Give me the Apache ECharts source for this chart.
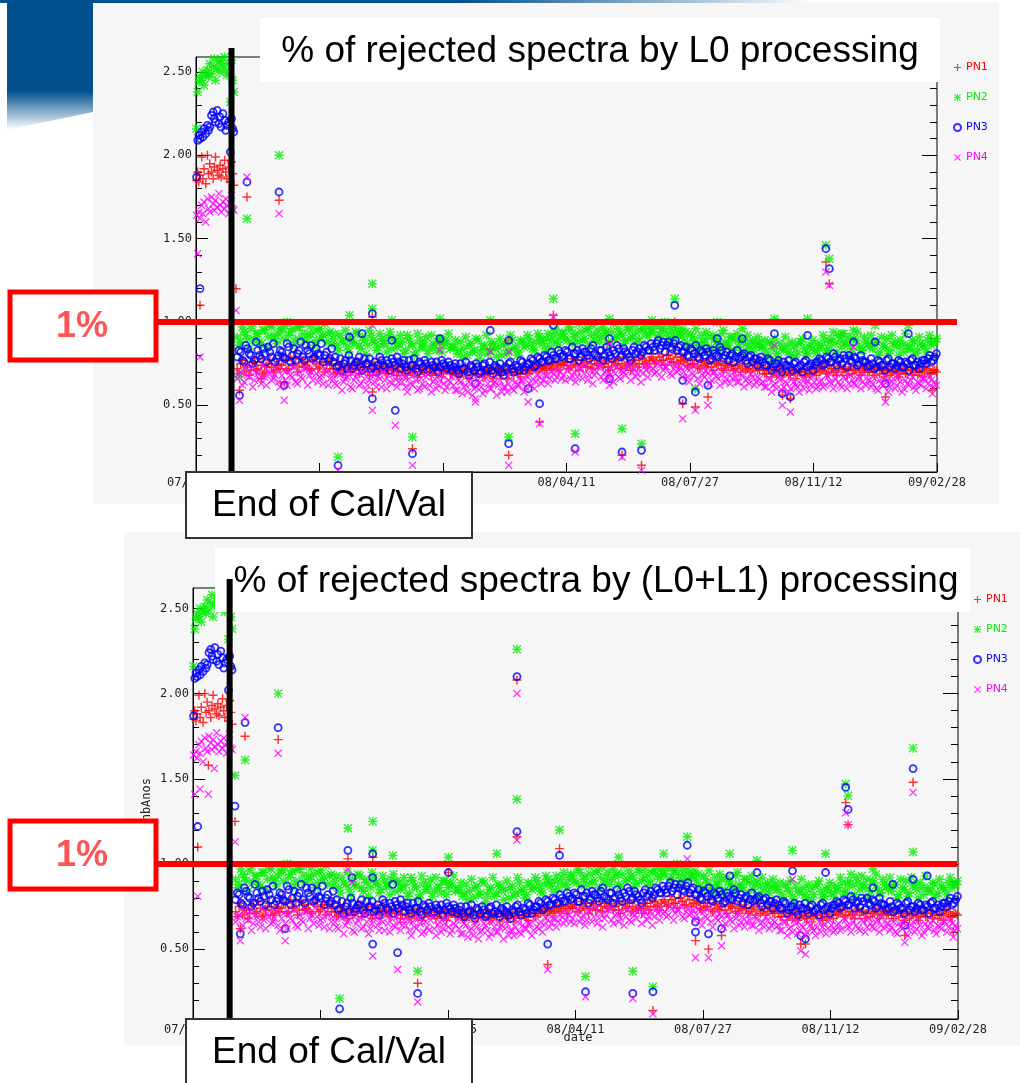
<!DOCTYPE html>
<html>
<head>
<meta charset="utf-8">
<script src="https://cdn.jsdelivr.net/npm/echarts@6/dist/echarts.min.js"></script>
<style>
html, body { margin: 0; padding: 0; background: #ffffff; }
#chart { width: 1020px; height: 1083px; }
</style>
</head>
<body>
<div id="chart"></div>
<script>
// ---- data -----------------------------------------------------------------
// x = days since 2007/05/23, y = % of rejected spectra
const SERIES_NAMES = ['PN1', 'PN2', 'PN3', 'PN4'];
const TICK_LABELS = ['07/05/23', '07/09/08', '07/12/25', '08/04/11', '08/07/27', '08/11/12', '09/02/28'];
const DAY_SPAN = 647;
const Y_LABELS = [0.5, 1.0, 1.5, 2.0, 2.5];
const THRESHOLD = 1.0;          // 1 % limit
const CALVAL_END_DAY = 31;      // end of the Cal/Val phase

// calibration / validation phase
const CAL_DAYS = [0.5, 1.5, 2.5, 3.5, 5, 6, 7, 8.5, 10, 11, 12, 13.5, 15, 16, 17, 18.5, 20, 21, 22, 23.5, 25, 26, 27, 28.5, 30, 31, 32, 33];
const PN1_CAL = [1.85, 1.90, 1.84, 1.88, 1.99, 1.86, 1.92, 1.83, 2.00, 1.89, 1.95, 1.90, 1.86, 1.93, 1.99, 1.91, 1.88, 1.94, 1.87, 1.92, 1.97, 1.90, 1.86, 1.93, 1.84, 1.96, 1.89, 1.82];
const PN2_CAL = [2.16, 2.38, 2.44, 2.47, 2.45, 2.50, 2.42, 2.48, 2.51, 2.47, 2.55, 2.49, 2.53, 2.58, 2.45, 2.52, 2.56, 2.50, 2.57, 2.54, 2.59, 2.51, 2.48, 2.55, 2.32, 2.57, 2.45, 2.38];
const PN3_CAL = [1.87, 2.09, 2.12, 2.10, 2.14, 2.11, 2.16, 2.13, 2.18, 2.15, 2.17, 2.24, 2.26, 2.22, 2.20, 2.27, 2.19, 2.23, 2.17, 2.25, 2.21, 2.15, 2.18, 2.20, 2.02, 2.22, 2.16, 2.14];
const PN4_CAL = [1.64, 1.41, 1.66, 1.62, 1.70, 1.65, 1.72, 1.60, 1.74, 1.68, 1.66, 1.75, 1.71, 1.67, 1.73, 1.69, 1.77, 1.70, 1.66, 1.72, 1.68, 1.74, 1.70, 1.65, 1.71, 1.76, 1.68, 1.67];

// routine operations: two interleaved daily samplings, every BAND_STEP days
const BAND_START = 36;
const BAND2_START = 37.5;
const BAND_STEP = 3;
const PN1_BAND = [
  0.72,0.75,0.70,0.74,0.71,0.76,0.72,0.74,0.70,0.75,0.73,0.71,0.74,
  0.74,0.77,0.72,0.75,0.78,0.73,0.76,0.74,0.72,0.77,0.75,0.73,0.76,0.74,0.72,
  0.72,0.70,0.74,0.71,0.73,0.70,0.72,0.74,0.71,0.73,0.70,0.72,0.74,0.71,0.73,0.70,0.72,0.71,0.73,0.70,
  0.71,0.69,0.72,0.70,0.73,0.69,0.71,0.72,0.70,0.71,0.69,0.72,0.70,0.71,0.69,
  0.70,0.68,0.71,0.69,0.72,0.68,0.70,0.69,0.71,0.68,0.70,0.72,0.69,0.70,0.68,0.71,0.69,0.70,0.72,0.69,0.71,0.70,0.72,0.71,0.73,0.72,
  0.73,0.72,0.74,0.73,0.75,0.74,
  0.74,0.76,0.73,0.75,0.77,0.74,0.76,0.73,0.75,0.77,0.74,0.76,0.75,0.73,0.76,0.74,0.77,0.75,0.73,0.76,0.74,0.77,0.75,0.78,0.76,0.77,
  0.78,0.76,0.79,0.77,0.80,0.78,0.76,0.79,0.77,
  0.76,0.74,0.77,0.75,0.73,0.76,0.74,0.75,0.73,0.76,0.74,0.72,0.75,0.73,0.74,0.72,0.75,0.73,0.71,0.74,0.72,0.73,0.71,
  0.71,0.69,0.72,0.70,0.68,0.71,0.69,0.70,0.68,0.71,0.69,0.70,0.68,0.71,0.69,0.70,0.72,
  0.71,0.73,0.70,0.72,0.71,0.73,0.70,0.72,0.71,0.69,0.72,0.70,0.71,0.73,0.70,
  0.70,0.72,0.69,0.71,0.70,0.68,0.71,0.69,0.70,0.72,0.69,0.71,0.70,0.68,0.71,0.70,0.72,0.69,0.71
];
const PN1_BAND2 = [
  0.69,0.77,0.73,0.68,0.76,0.71,0.78,0.69,0.73,0.77,0.70,0.75,0.72,
  0.77,0.71,0.79,0.74,0.70,0.78,0.73,0.76,0.71,0.79,0.72,0.76,0.70,0.78,0.75,
  0.69,0.75,0.72,0.68,0.74,0.71,0.76,0.69,0.73,0.75,0.68,0.74,0.70,0.76,0.72,0.69,0.74,0.71,0.68,0.75,
  0.73,0.68,0.71,0.74,0.67,0.72,0.70,0.74,0.68,0.72,0.73,0.67,0.71,0.73,0.70,
  0.72,0.67,0.70,0.73,0.66,0.71,0.69,0.73,0.67,0.71,0.69,0.66,0.72,0.68,0.71,0.66,0.72,0.68,0.70,0.67,0.73,0.69,0.71,0.74,0.70,0.73,
  0.71,0.75,0.72,0.76,0.71,0.75,
  0.76,0.72,0.78,0.74,0.71,0.77,0.73,0.78,0.72,0.75,0.79,0.73,0.77,0.71,0.78,0.75,0.72,0.79,0.74,0.71,0.77,0.73,0.79,0.75,0.73,0.79,
  0.75,0.81,0.77,0.74,0.80,0.76,0.81,0.75,0.79,
  0.78,0.73,0.75,0.79,0.72,0.77,0.73,0.78,0.71,0.75,0.77,0.71,0.74,0.76,0.71,0.74,0.70,0.77,0.72,0.70,0.75,0.71,0.74,
  0.69,0.73,0.67,0.71,0.73,0.67,0.72,0.68,0.72,0.66,0.70,0.72,0.67,0.69,0.73,0.68,0.70,
  0.73,0.69,0.74,0.70,0.68,0.74,0.72,0.68,0.73,0.71,0.74,0.68,0.72,0.70,0.73,
  0.68,0.73,0.71,0.67,0.72,0.70,0.73,0.67,0.71,0.69,0.73,0.68,0.72,0.70,0.67,0.73,0.69,0.71,0.70
];
const PN2_BAND = [
  0.91,0.88,0.94,0.90,0.96,0.89,0.93,0.87,0.95,0.91,0.97,0.90,0.93,
  0.95,0.98,0.92,0.96,0.90,0.97,0.93,0.99,0.91,0.94,0.89,0.96,0.92,0.88,0.94,
  0.90,0.86,0.92,0.88,0.85,0.91,0.87,0.93,0.84,0.89,0.86,0.92,0.88,0.85,0.90,0.87,0.91,0.84,0.89,0.86,
  0.88,0.83,0.90,0.86,0.82,0.89,0.85,0.91,0.84,0.87,0.83,0.90,0.86,0.88,0.84,
  0.85,0.81,0.88,0.84,0.80,0.87,0.83,0.89,0.82,0.86,0.81,0.88,0.84,0.85,0.80,0.87,0.83,0.89,0.85,0.82,0.88,0.86,0.90,0.84,0.88,0.91,
  0.87,0.90,0.85,0.92,0.88,0.91,
  0.93,0.89,0.95,0.91,0.88,0.94,0.90,0.96,0.92,0.89,0.95,0.91,0.93,0.88,0.94,0.90,0.96,0.92,0.89,0.95,0.91,0.94,0.90,0.96,0.93,0.97,
  0.94,0.98,0.92,0.96,0.93,0.97,0.91,0.95,0.93,
  0.90,0.87,0.93,0.89,0.86,0.92,0.88,0.91,0.85,0.90,0.87,0.93,0.88,0.86,0.91,0.89,0.85,0.90,0.87,0.84,0.89,0.86,0.88,
  0.85,0.82,0.88,0.84,0.81,0.87,0.83,0.86,0.80,0.85,0.82,0.88,0.84,0.81,0.86,0.83,0.87,
  0.86,0.89,0.84,0.90,0.87,0.92,0.85,0.88,0.91,0.84,0.89,0.86,0.83,0.88,0.85,
  0.84,0.88,0.82,0.86,0.90,0.83,0.87,0.85,0.89,0.82,0.86,0.84,0.88,0.83,0.87,0.85,0.89,0.86,0.88
];
const PN2_BAND2 = [
  0.86,0.97,0.92,0.84,0.99,0.93,0.88,0.95,0.85,0.98,0.92,0.87,0.96,
  0.90,1.00,0.94,0.87,0.97,0.99,0.89,0.93,0.98,0.86,0.95,0.91,0.99,0.93,0.87,
  0.93,0.83,0.89,0.95,0.82,0.88,0.94,0.86,0.91,0.81,0.95,0.89,0.83,0.93,0.87,0.82,0.94,0.90,0.85,0.92,
  0.81,0.92,0.87,0.80,0.93,0.85,0.88,0.81,0.92,0.86,0.90,0.82,0.89,0.93,0.85,
  0.89,0.83,0.79,0.91,0.86,0.82,0.90,0.78,0.85,0.92,0.83,0.87,0.79,0.90,0.86,0.81,0.92,0.84,0.80,0.89,0.85,0.92,0.87,0.83,0.93,0.89,
  0.84,0.93,0.89,0.95,0.86,0.94,
  0.90,0.97,0.87,0.93,0.99,0.89,0.95,0.86,0.98,0.92,0.88,0.97,0.94,0.87,0.99,0.91,0.93,0.87,0.97,0.90,0.98,0.88,0.95,0.99,0.91,0.94,
  0.99,0.91,0.96,1.00,0.90,0.94,0.98,0.92,0.96,
  0.94,0.85,0.91,0.96,0.84,0.88,0.94,0.83,0.92,0.88,0.84,0.95,0.86,0.91,0.83,0.93,0.88,0.82,0.92,0.87,0.83,0.91,0.85,
  0.89,0.79,0.86,0.90,0.78,0.84,0.91,0.82,0.88,0.79,0.87,0.90,0.80,0.85,0.89,0.81,0.84,
  0.92,0.83,0.88,0.94,0.82,0.89,0.93,0.86,0.81,0.90,0.94,0.83,0.91,0.87,0.92,
  0.87,0.80,0.91,0.85,0.81,0.92,0.88,0.80,0.86,0.93,0.84,0.89,0.81,0.91,0.86,0.82,0.92,0.88,0.90
];
const PN3_BAND = [
  0.79,0.82,0.76,0.84,0.80,0.77,0.83,0.78,0.81,0.85,0.79,0.76,0.80,
  0.82,0.78,0.85,0.80,0.77,0.83,0.79,0.86,0.81,0.78,0.84,0.80,0.76,0.82,0.78,
  0.76,0.73,0.78,0.75,0.72,0.77,0.74,0.76,0.73,0.78,0.75,0.72,0.76,0.74,0.77,0.73,0.75,0.78,0.74,0.76,
  0.75,0.73,0.77,0.74,0.72,0.76,0.73,0.75,0.72,0.74,0.76,0.73,0.75,0.72,0.74,
  0.73,0.71,0.75,0.72,0.70,0.74,0.71,0.73,0.70,0.75,0.72,0.71,0.74,0.72,0.70,0.73,0.75,0.72,0.74,0.71,0.76,0.73,0.75,0.77,0.74,0.78,
  0.76,0.79,0.77,0.80,0.78,0.81,
  0.80,0.82,0.78,0.81,0.83,0.79,0.82,0.80,0.84,0.81,0.79,0.83,0.80,0.82,0.78,0.81,0.84,0.80,0.82,0.79,0.83,0.81,0.84,0.82,0.85,0.83,
  0.85,0.87,0.84,0.88,0.86,0.85,0.87,0.83,0.86,
  0.82,0.80,0.84,0.81,0.79,0.83,0.80,0.82,0.78,0.81,0.79,0.83,0.80,0.77,0.81,0.79,0.78,0.80,0.77,0.79,0.76,0.78,0.77,
  0.76,0.74,0.77,0.73,0.75,0.72,0.76,0.74,0.73,0.75,0.72,0.74,0.76,0.73,0.75,0.74,0.76,
  0.77,0.75,0.78,0.76,0.79,0.77,0.75,0.78,0.80,0.76,0.78,0.75,0.77,0.76,0.74,
  0.75,0.73,0.76,0.74,0.77,0.73,0.75,0.74,0.76,0.73,0.75,0.77,0.74,0.76,0.75,0.77,0.78,0.76,0.79
];
const PN3_BAND2 = [
  0.83,0.77,0.86,0.81,0.75,0.88,0.80,0.84,0.76,0.82,0.87,0.78,0.83,
  0.79,0.87,0.76,0.84,0.81,0.88,0.77,0.83,0.86,0.79,0.81,0.87,0.80,0.77,0.84,
  0.79,0.74,0.71,0.77,0.80,0.72,0.76,0.79,0.71,0.75,0.78,0.73,0.70,0.79,0.74,0.77,0.71,0.76,0.79,0.72,
  0.77,0.71,0.74,0.78,0.70,0.75,0.77,0.71,0.76,0.73,0.70,0.77,0.74,0.76,0.71,
  0.75,0.69,0.72,0.76,0.68,0.73,0.75,0.69,0.74,0.71,0.76,0.69,0.73,0.75,0.68,0.72,0.76,0.70,0.73,0.77,0.71,0.75,0.78,0.73,0.79,0.76,
  0.80,0.77,0.82,0.78,0.83,0.79,
  0.83,0.78,0.85,0.81,0.77,0.84,0.82,0.78,0.86,0.80,0.83,0.77,0.85,0.80,0.83,0.86,0.79,0.84,0.81,0.77,0.85,0.82,0.80,0.86,0.83,0.87,
  0.83,0.89,0.86,0.82,0.88,0.84,0.89,0.85,0.82,
  0.85,0.79,0.83,0.86,0.78,0.82,0.84,0.77,0.83,0.80,0.85,0.78,0.82,0.80,0.76,0.83,0.79,0.81,0.75,0.80,0.78,0.74,0.79,
  0.74,0.78,0.71,0.75,0.77,0.70,0.74,0.77,0.71,0.76,0.73,0.70,0.77,0.74,0.71,0.76,0.78,
  0.74,0.79,0.76,0.81,0.74,0.78,0.80,0.73,0.77,0.79,0.74,0.80,0.76,0.73,0.78,
  0.72,0.77,0.74,0.71,0.78,0.75,0.72,0.77,0.73,0.76,0.71,0.78,0.74,0.72,0.77,0.75,0.80,0.77,0.81
];
const PN4_BAND = [
  0.66,0.70,0.64,0.68,0.72,0.65,0.69,0.63,0.67,0.71,0.65,0.68,0.64,
  0.68,0.65,0.71,0.67,0.64,0.70,0.66,0.72,0.68,0.65,0.69,0.67,0.63,0.70,0.66,
  0.66,0.62,0.68,0.64,0.67,0.61,0.65,0.69,0.63,0.66,0.62,0.68,0.64,0.67,0.61,0.65,0.68,0.63,0.66,0.64,
  0.64,0.61,0.66,0.62,0.65,0.60,0.63,0.67,0.62,0.64,0.60,0.65,0.63,0.61,0.64,
  0.62,0.59,0.64,0.61,0.58,0.63,0.60,0.65,0.61,0.59,0.63,0.60,0.64,0.62,0.58,0.61,0.63,0.60,0.64,0.62,0.65,0.61,0.63,0.66,0.64,0.67,
  0.65,0.68,0.66,0.69,0.67,0.70,
  0.68,0.71,0.66,0.70,0.67,0.72,0.69,0.65,0.71,0.68,0.73,0.67,0.70,0.66,0.72,0.69,0.67,0.71,0.68,0.73,0.70,0.67,0.72,0.69,0.71,0.74,
  0.72,0.70,0.74,0.71,0.73,0.69,0.72,0.70,0.73,
  0.70,0.67,0.72,0.68,0.66,0.71,0.67,0.69,0.65,0.70,0.66,0.68,0.64,0.69,0.66,0.67,0.64,0.68,0.65,0.63,0.67,0.64,0.66,
  0.64,0.61,0.66,0.62,0.60,0.65,0.61,0.63,0.60,0.64,0.61,0.63,0.60,0.65,0.62,0.64,0.61,
  0.65,0.62,0.67,0.63,0.66,0.64,0.61,0.66,0.63,0.65,0.62,0.67,0.64,0.62,0.65,
  0.63,0.60,0.65,0.62,0.64,0.61,0.66,0.62,0.64,0.60,0.63,0.65,0.61,0.64,0.62,0.66,0.63,0.65,0.64
];
const PN4_BAND2 = [
  0.69,0.62,0.73,0.67,0.61,0.70,0.66,0.74,0.62,0.69,0.66,0.72,0.61,
  0.71,0.62,0.68,0.73,0.63,0.67,0.72,0.62,0.70,0.74,0.64,0.68,0.72,0.62,0.69,
  0.63,0.69,0.59,0.66,0.70,0.60,0.67,0.62,0.70,0.59,0.65,0.69,0.61,0.66,0.70,0.60,0.64,0.69,0.61,0.67,
  0.67,0.58,0.63,0.68,0.59,0.66,0.61,0.69,0.58,0.66,0.62,0.68,0.59,0.65,0.67,
  0.59,0.65,0.57,0.62,0.66,0.56,0.61,0.64,0.57,0.66,0.60,0.63,0.56,0.65,0.61,0.58,0.66,0.59,0.62,0.65,0.58,0.67,0.62,0.60,0.68,0.63,
  0.68,0.63,0.70,0.65,0.71,0.66,
  0.65,0.73,0.68,0.64,0.72,0.66,0.74,0.68,0.63,0.70,0.74,0.65,0.71,0.68,0.64,0.73,0.66,0.70,0.74,0.65,0.72,0.69,0.64,0.73,0.67,0.71,
  0.69,0.75,0.67,0.73,0.76,0.68,0.74,0.71,0.67,
  0.73,0.64,0.69,0.74,0.63,0.68,0.71,0.63,0.70,0.67,0.62,0.71,0.66,0.63,0.70,0.64,0.69,0.61,0.66,0.69,0.62,0.67,0.63,
  0.61,0.66,0.58,0.63,0.67,0.59,0.64,0.58,0.66,0.62,0.58,0.66,0.63,0.59,0.67,0.60,0.64,
  0.61,0.68,0.64,0.60,0.69,0.62,0.67,0.60,0.68,0.63,0.66,0.60,0.69,0.65,0.61,
  0.66,0.59,0.63,0.67,0.58,0.64,0.60,0.67,0.58,0.65,0.62,0.67,0.59,0.63,0.66,0.60,0.67,0.61,0.62
];

// isolated days, L0 processing  [day, %]
const L0_PN1_OUT = [[3.5,1.10],[35,1.20],[38,0.59],[44.5,1.75],[57,0.66],[72.5,1.73],[77,0.64],[134,0.90],[154,1.03],[154,0.58],[189,0.24],[213,0.87],[257,0.84],[273,0.20],[273,0.89],[300,0.40],[312,1.04],[372,0.20],[389,0.14],[418,1.00],[425,0.51],[436,0.49],[447,0.55],[512,0.56],[519,0.54],[550,1.36],[553,1.23],[602,0.55],[643,0.59]];
const L0_PN2_OUT = [[38,0.67],[44.5,1.62],[72.5,2.00],[124,0.19],[134,1.04],[154,1.23],[154,1.08],[171,1.01],[189,0.31],[213,1.02],[257,1.01],[273,0.31],[312,1.14],[331,0.33],[361,1.02],[372,0.36],[389,0.27],[398,1.01],[418,1.14],[436,0.60],[455,1.00],[477,0.96],[505,1.02],[534,1.02],[550,1.46],[553,1.38],[564,0.93],[574,0.95],[593,0.98],[622,0.98]];
const L0_PN3_OUT = [[3.5,1.20],[38,0.56],[44.5,1.84],[72.5,1.78],[77,0.62],[124,0.14],[134,0.91],[145,0.93],[154,1.05],[154,0.54],[171,0.89],[174,0.47],[189,0.21],[213,0.90],[244,0.63],[257,0.95],[273,0.27],[273,0.89],[290,0.60],[300,0.51],[312,0.98],[331,0.24],[361,0.90],[361,0.66],[372,0.22],[389,0.23],[418,1.10],[425,0.65],[425,0.53],[436,0.58],[447,0.62],[455,0.90],[477,0.90],[505,0.93],[512,0.57],[519,0.55],[534,0.92],[550,1.44],[553,1.32],[574,0.88],[593,0.88],[602,0.63],[622,0.93]];
const L0_PN4_OUT = [[3.5,0.79],[35,1.07],[38,0.53],[44.5,1.87],[72.5,1.65],[77,0.53],[124,0.11],[154,0.98],[154,0.47],[174,0.38],[189,0.14],[213,0.83],[244,0.54],[244,0.52],[257,0.82],[273,0.14],[273,0.82],[290,0.52],[300,0.39],[312,1.03],[331,0.22],[361,0.87],[361,0.62],[372,0.19],[389,0.11],[425,0.42],[436,0.47],[447,0.50],[505,0.86],[512,0.50],[519,0.46],[550,1.30],[553,1.22],[574,0.85],[602,0.52],[643,0.57]];

// isolated days, L0+L1 processing  [day, %]
const L0L1_PN1_OUT = [[4,1.10],[13,1.58],[35.5,1.25],[40,0.62],[44,1.75],[72,1.73],[131,1.03],[152,1.04],[190,0.30],[216,0.95],[274,2.08],[274,1.16],[300,0.41],[310,1.09],[389,0.14],[425,0.55],[436,0.50],[447,0.58],[514,0.53],[518,0.53],[552,1.36],[554,1.23],[602,0.58],[609,1.48],[643,0.60]];
const L0L1_PN2_OUT = [[35.5,1.52],[44,1.61],[72,2.00],[124,0.21],[131,1.21],[152,1.25],[152,1.08],[169,1.05],[190,0.37],[216,1.04],[257,1.06],[274,2.26],[274,1.38],[310,1.20],[332,0.34],[360,1.04],[372,0.37],[389,0.28],[398,1.06],[418,1.16],[454,1.06],[477,1.02],[507,1.08],[535,1.06],[552,1.47],[554,1.40],[575,0.97],[609,1.68],[609,1.07]];
const L0L1_PN3_OUT = [[4,1.22],[35.5,1.34],[40,0.59],[44,1.83],[72,1.80],[78,0.62],[124,0.15],[131,1.08],[134.5,0.92],[152,1.06],[152,0.92],[152,0.53],[169,0.88],[173,0.48],[190,0.24],[216,0.95],[274,2.10],[274,1.19],[300,0.53],[310,1.05],[332,0.25],[372,0.24],[389,0.25],[418,1.11],[425,0.66],[425,0.60],[436,0.59],[447,0.62],[454,0.93],[477,0.95],[507,0.96],[514,0.58],[518,0.56],[535,0.95],[552,1.45],[554,1.32],[575,0.86],[592,0.88],[602,0.64],[609,1.56],[609,0.91],[621,0.93]];
const L0L1_PN4_OUT = [[4,0.81],[6,1.44],[13,1.41],[18,1.56],[35.5,1.13],[40,0.55],[44,1.86],[72,1.65],[78,0.55],[131,0.97],[134.5,0.89],[152,0.46],[173,0.38],[190,0.19],[274,2.00],[274,1.14],[300,0.38],[332,0.22],[372,0.21],[389,0.12],[418,1.03],[425,0.45],[436,0.45],[447,0.52],[507,0.91],[514,0.49],[518,0.47],[552,1.30],[554,1.23],[602,0.54],[609,1.42],[643,0.57]];

const CAL = [PN1_CAL, PN2_CAL, PN3_CAL, PN4_CAL];
const BAND = [PN1_BAND, PN2_BAND, PN3_BAND, PN4_BAND];
const BAND2 = [PN1_BAND2, PN2_BAND2, PN3_BAND2, PN4_BAND2];

// ---- styling ---------------------------------------------------------------
const COLORS = ['#ff0000', '#00ee00', '#0000ff', '#ff00ff'];
const PLUS = 'path://M4.2,0H5.8V4.2H10V5.8H5.8V10H4.2V5.8H0V4.2H4.2Z';
const CROSS = 'path://M0,1.1L1.1,0L5,3.9L8.9,0L10,1.1L6.1,5L10,8.9L8.9,10L5,6.1L1.1,10L0,8.9L3.9,5Z';
const STAR = 'path://M4.2,0H5.8V10H4.2Z M0,4.2H10V5.8H0Z M1.1,0L10,8.9L8.9,10L0,1.1Z M8.9,0L10,1.1L1.1,10L0,8.9Z';
const MARKERS = [
  { symbol: PLUS, symbolSize: 9, itemStyle: { color: COLORS[0] } },
  { symbol: STAR, symbolSize: 9, itemStyle: { color: COLORS[1] } },
  { symbol: 'circle', symbolSize: 7, itemStyle: { color: 'rgba(0,0,0,0)', borderColor: COLORS[2], borderWidth: 1.8 } },
  { symbol: CROSS, symbolSize: 8, itemStyle: { color: COLORS[3] } }
];

const PANELS = [
  { grid: { left: 196, top: 57, width: 741, height: 415 }, yMin: 0.10, yMax: 2.59,
    out: [L0_PN1_OUT, L0_PN2_OUT, L0_PN3_OUT, L0_PN4_OUT], legend: { left: 953, top: 62 },
    pctBox: { y: 292, h: 68 } },
  { grid: { left: 193, top: 588, width: 765, height: 431 }, yMin: 0.09, yMax: 2.62,
    out: [L0L1_PN1_OUT, L0L1_PN2_OUT, L0L1_PN3_OUT, L0L1_PN4_OUT], legend: { left: 973, top: 594 },
    pctBox: { y: 821, h: 68 } }
];

const TICK_FONT = { fontFamily: 'DejaVu Sans Mono', fontSize: 12, color: '#222222' };
const X_TICKS = TICK_LABELS.map((_, i) => i * DAY_SPAN / (TICK_LABELS.length - 1));
const MINOR_Y = [];
for (let v = 2; v <= 25; v++) MINOR_Y.push(v / 10);

function panelData(k, outliers) {
  const data = CAL_DAYS.map((d, i) => [d, CAL[k][i]]);
  BAND[k].forEach((v, i) => data.push([BAND_START + i * BAND_STEP, v]));
  BAND2[k].forEach((v, i) => data.push([BAND2_START + i * BAND_STEP, v]));
  outliers.forEach(p => data.push(p));
  return data;
}

const grids = [], xAxes = [], yAxes = [], series = [], legends = [];
PANELS.forEach((P, p) => {
  grids.push(Object.assign({ show: true, borderColor: '#000', borderWidth: 1, backgroundColor: 'transparent' }, P.grid));
  xAxes.push({
    type: 'value', gridIndex: p, min: 0, max: DAY_SPAN,
    axisLine: { show: true, lineStyle: { color: '#000', width: 1 } },
    axisTick: { show: true, inside: true, length: 9, customValues: X_TICKS, lineStyle: { color: '#000' } },
    axisLabel: { show: true, margin: 5, customValues: X_TICKS,
      formatter: v => TICK_LABELS[Math.round(v * (TICK_LABELS.length - 1) / DAY_SPAN)], ...TICK_FONT },
    splitLine: { show: false }
  });
  const yBase = { type: 'value', gridIndex: p, min: P.yMin, max: P.yMax, splitLine: { show: false } };
  // left: labelled major ticks
  yAxes.push({ ...yBase, position: 'left',
    axisLine: { show: true, lineStyle: { color: '#000' } },
    axisTick: { show: true, inside: true, length: 12, customValues: Y_LABELS, lineStyle: { color: '#000' } },
    axisLabel: { show: true, margin: 4, customValues: Y_LABELS, formatter: v => v.toFixed(2), ...TICK_FONT } });
  // left: minor ticks
  yAxes.push({ ...yBase, position: 'left', axisLine: { show: false }, axisLabel: { show: false },
    axisTick: { show: true, inside: true, length: 6, customValues: MINOR_Y, lineStyle: { color: '#000' } } });
  // right: major ticks
  yAxes.push({ ...yBase, position: 'right', axisLine: { show: false }, axisLabel: { show: false },
    axisTick: { show: true, inside: true, length: 15, customValues: Y_LABELS, lineStyle: { color: '#000' } } });
  // right: minor ticks
  yAxes.push({ ...yBase, position: 'right', axisLine: { show: false }, axisLabel: { show: false },
    axisTick: { show: true, inside: true, length: 7, customValues: MINOR_Y, lineStyle: { color: '#000' } } });

  SERIES_NAMES.forEach((name, k) => {
    series.push(Object.assign({
      type: 'scatter', name, xAxisIndex: p, yAxisIndex: p * 4,
      data: panelData(k, P.out[k]), silent: true, z: 2 + k,
      emphasis: { disabled: true }
    }, MARKERS[k]));
  });

  legends.push({
    orient: 'vertical', left: P.legend.left, top: P.legend.top, padding: 0,
    itemWidth: 7, itemHeight: 7, itemGap: 19, selectedMode: false,
    textStyle: { fontFamily: 'DejaVu Sans', fontSize: 11 },
    data: SERIES_NAMES.map((n, k) => ({ name: n, textStyle: { color: COLORS[k] } }))
  });
});

const chart = echarts.init(document.getElementById('chart'), null, { renderer: 'canvas' });
chart.setOption({
  animation: false,
  backgroundColor: '#ffffff',
  grid: grids, xAxis: xAxes, yAxis: yAxes, series, legend: legends
});

// ---- slide decorations and annotations -------------------------------------
const TITLE_FONT = 'Liberation Sans, Arial, sans-serif';
const BLUE = '#02508e';
const graphics = [
  // slide banner
  { type: 'rect', z: -20, shape: { x: 0, y: 0, width: 1020, height: 3 },
    style: { fill: new echarts.graphic.LinearGradient(0, 0, 1, 0, [
      { offset: 0, color: BLUE }, { offset: 0.45, color: BLUE }, { offset: 0.8, color: '#ffffff' }]) } },
  { type: 'polygon', z: -20, shape: { points: [[7, 0], [93, 0], [93, 112], [7, 130]] },
    style: { fill: new echarts.graphic.LinearGradient(0, 0, 0, 1, [
      { offset: 0, color: BLUE }, { offset: 0.7, color: BLUE }, { offset: 1, color: '#ffffff' }]) } },
  // panel backgrounds
  { type: 'rect', z: -10, shape: { x: 93, y: 3, width: 906, height: 501 }, style: { fill: '#f6f6f6' } },
  { type: 'rect', z: -10, shape: { x: 124, y: 532, width: 896, height: 513 }, style: { fill: '#f6f6f6' } },
  // titles
  { type: 'rect', z: 10, shape: { x: 260, y: 18, width: 680, height: 64 }, style: { fill: '#ffffff' } },
  { type: 'text', z: 11, x: 600, y: 52, style: { text: '% of rejected spectra by L0 processing',
    font: '37px ' + TITLE_FONT, fill: '#000', align: 'center', verticalAlign: 'middle' } },
  { type: 'rect', z: 10, shape: { x: 215, y: 548, width: 755, height: 64 }, style: { fill: '#ffffff' } },
  { type: 'text', z: 11, x: 596, y: 582, style: { text: '% of rejected spectra by (L0+L1) processing',
    font: '37px ' + TITLE_FONT, fill: '#000', align: 'center', verticalAlign: 'middle' } },
  // axis titles of the lower panel
  { type: 'text', z: 5, x: 147, y: 778, rotation: Math.PI / 2, style: { text: 'nbAnos',
    font: '12px DejaVu Sans Mono', fill: '#222', align: 'right', verticalAlign: 'middle' } },
  { type: 'text', z: 5, x: 578, y: 1038, style: { text: 'date',
    font: '12px DejaVu Sans Mono', fill: '#222', align: 'center', verticalAlign: 'middle' } }
];

PANELS.forEach((P, p) => {
  const yThr = chart.convertToPixel({ yAxisIndex: p * 4 }, THRESHOLD);
  const xEnd = chart.convertToPixel({ xAxisIndex: p }, CALVAL_END_DAY);
  const bottom = P.grid.top + P.grid.height;
  // 1 % threshold
  graphics.push({ type: 'line', z: 12, shape: { x1: 158, y1: yThr, x2: 957, y2: yThr },
    style: { stroke: '#ff0000', lineWidth: 6 } });
  // end of Cal/Val
  graphics.push({ type: 'line', z: 13, shape: { x1: xEnd, y1: P.grid.top - 9, x2: xEnd, y2: bottom + 2 },
    style: { stroke: '#000000', lineWidth: 6 } });
  // "1%" label box
  graphics.push({ type: 'rect', z: 14, shape: { x: 10, y: P.pctBox.y, width: 146, height: P.pctBox.h },
    style: { fill: '#ffffff', stroke: '#ff0000', lineWidth: 5 } });
  graphics.push({ type: 'text', z: 15, x: 82, y: P.pctBox.y + P.pctBox.h / 2 + 1, style: { text: '1%',
    font: 'bold 36px ' + TITLE_FONT, fill: '#ff5555', align: 'center', verticalAlign: 'middle' } });
  // "End of Cal/Val" box
  graphics.push({ type: 'rect', z: 14, shape: { x: 186, y: bottom, width: 286, height: 66 },
    style: { fill: '#ffffff', stroke: '#333333', lineWidth: 2 } });
  graphics.push({ type: 'text', z: 15, x: 329, y: bottom + 34, style: { text: 'End of Cal/Val',
    font: '37px ' + TITLE_FONT, fill: '#000', align: 'center', verticalAlign: 'middle' } });
});

chart.setOption({ graphic: graphics });
</script>
</body>
</html>
